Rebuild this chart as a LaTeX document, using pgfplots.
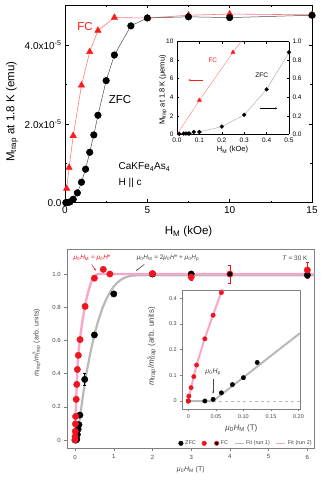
\documentclass[border=0pt]{standalone}
\usepackage{fontspec}
\setmainfont{Liberation Sans}
\usepackage{pgfplots}
\pgfplotsset{compat=1.18}
\usetikzlibrary{arrows.meta}
\definecolor{fcred}{HTML}{FF1A1A}
\definecolor{fcline}{HTML}{FF7A7A}
\definecolor{pinkfit}{HTML}{F9A6CB}
\definecolor{grayfit}{HTML}{B9B9B9}
\definecolor{ptred}{HTML}{F0141E}
\definecolor{framegray}{HTML}{808080}
\definecolor{labelgray}{HTML}{444444}
\definecolor{annot}{HTML}{3C4A5A}
\newcommand{\muo}{\textit{μ}\textsubscript{0}}
\begin{document}
\begin{tikzpicture}
%================ TOP MAIN =================
\begin{axis}[at={(65pt,278.3pt)}, anchor=south west, scale only axis,
  width=247pt, height=197.7pt,
  xmin=0, xmax=15, ymin=0, ymax=5.02,
  xtick={0,5,10,15}, ytick={0,2,4},
  yticklabels={0.0,{2.0x10\textsuperscript{-5}},{4.0x10\textsuperscript{-5}}},
  minor xtick={2.5,7.5,12.5}, minor ytick={1,3},
  tick align=inside, major tick length=3.5pt, minor tick length=2pt,
  every tick/.style={black, line width=0.6pt},
  axis line style={line width=0.8pt},
  tick label style={font=\fontsize{10}{12}\selectfont},
  /pgf/number format/assume math mode=true,
  xlabel={H\textsubscript{M} (kOe)}, ylabel={M\textsubscript{trap} at 1.8 K (emu)},
  label style={font=\fontsize{11.5}{13}\selectfont},
  xlabel style={at={(axis description cs:0.5,-0.148)}, anchor=center},
  ylabel style={at={(axis description cs:-0.215,0.46)}, anchor=center},
  clip=false]
\addplot[fcline, line width=0.6pt, mark=triangle*, mark size=3.6pt,
  mark options={fill=fcred, draw=fcred}] coordinates {
 (0.1,0.36) (0.25,0.89) (0.5,1.70) (1.0,2.98) (1.5,3.83) (2.0,4.37)
 (3.0,4.70) (5.0,4.69) (7.5,4.76) (10,4.79) (15,4.77)};
\addplot[black!70, line width=0.5pt, mark=*, mark size=3.3pt,
  mark options={fill=black, draw=black}] coordinates {
 (0.05,0.001) (0.1,0.003) (0.2,0.008) (0.3,0.02) (0.5,0.088) (0.75,0.25)
 (1.0,0.52) (1.25,0.85) (1.5,1.28) (1.75,1.72) (2.0,2.22) (2.5,3.1)
 (3.0,3.75) (4.0,4.49) (5.0,4.69) (7.5,4.72) (10,4.70) (15,4.76)};
\node[fcred, font=\fontsize{11.5}{13}\selectfont] at (axis cs:1.21,4.48) {FC};
\node[font=\fontsize{11.5}{13}\selectfont] at (axis cs:3.34,2.63) {ZFC};
\node[anchor=west, inner sep=0pt, font=\fontsize{10}{12}\selectfont] at (axis cs:3.25,0.9) {CaKFe\textsubscript{4}As\textsubscript{4}};
\node[anchor=west, inner sep=0pt, font=\fontsize{10}{12}\selectfont] at (axis cs:3.25,0.5) {H || c};
\end{axis}
%================ TOP INSET (left axis) =================
\begin{axis}[at={(177pt,346.7pt)}, anchor=south west, scale only axis,
  width=112pt, height=92.6pt,
  xmin=0, xmax=0.5, ymin=0, ymax=10,
  axis y line*=left,
  axis background/.style={fill=white},
  xtick={0,0.1,0.2,0.3,0.4,0.5}, xticklabels={0.0,0.1,0.2,0.3,0.4,0.5},
  ytick={0,2,4,6,8,10},
  tick align=inside, major tick length=2pt,
  every tick/.style={black, line width=0.5pt},
  axis line style={line width=0.6pt},
  tick label style={font=\fontsize{6.5}{7}\selectfont},
  /pgf/number format/assume math mode=true,
  xlabel={H\textsubscript{M} (kOe)}, ylabel={M\textsubscript{trap} at 1.8 K (μemu)},
  label style={font=\fontsize{7.5}{8.5}\selectfont},
  xlabel style={at={(axis description cs:0.495,-0.17)}, anchor=center},
  ylabel style={at={(axis description cs:-0.125,0.478)}, anchor=center}]
\addplot[fcline, line width=0.4pt, no marks] coordinates {(0,0) (0.1,3.67) (0.25,8.85) (0.5,17.0)};
\addplot[only marks, mark=triangle*, mark size=2.4pt, mark options={fill=fcred, draw=fcred}] coordinates {(0.1,3.67) (0.25,8.85)};
\node[fcred, font=\fontsize{6.5}{7}\selectfont] at (axis cs:0.16,8.0) {FC};
\draw[fcred, line width=0.7pt, -{Stealth[length=2.5pt]}] (axis cs:0.117,5.86) -- (axis cs:0.05,5.86);
\node[font=\fontsize{6.5}{7}\selectfont] at (axis cs:0.378,6.4) {ZFC};
\draw[black, line width=0.7pt, -{Stealth[length=2.5pt]}] (axis cs:0.37,2.8) -- (axis cs:0.448,2.8);
\end{axis}
%================ TOP INSET (right axis) =================
\begin{axis}[at={(177pt,346.7pt)}, anchor=south west, scale only axis,
  width=112pt, height=92.6pt,
  xmin=0, xmax=0.5, ymin=0, ymax=1,
  axis y line*=right, axis x line=none,
  ytick={0,0.2,0.4,0.6,0.8,1.0}, yticklabels={0.0,0.2,0.4,0.6,0.8,1.0},
  tick align=inside, major tick length=2pt,
  every tick/.style={black, line width=0.5pt},
  axis line style={line width=0.6pt},
  tick label style={font=\fontsize{6.5}{7}\selectfont},
  /pgf/number format/assume math mode=true, clip=false]
\addplot[black!35, line width=0.4pt, mark=*, mark size=1.9pt, mark options={fill=black, draw=black}] coordinates {
 (0.01,0.005) (0.03,0.008) (0.04,0.008) (0.05,0.008) (0.055,0.008) (0.075,0.025) (0.1,0.025)
 (0.2,0.083) (0.3,0.21) (0.4,0.485) (0.5,0.885)};
\end{axis}
%================ BOTTOM MAIN =================
\begin{axis}[at={(67.3pt,32.7pt)}, anchor=south west, scale only axis,
  width=247pt, height=199pt,
  xmin=-0.2, xmax=6.18, ymin=-0.05, ymax=1.149,
  xtick={0,1,2,3,4,5,6}, ytick={0,0.2,0.4,0.6,0.8,1.0},
  yticklabels={0,0.2,0.4,0.6,0.8,1.0},
  xtick pos=bottom, ytick pos=left, tick align=outside, major tick length=3pt,
  axis line style={framegray, line width=0.6pt},
  every tick/.style={framegray, line width=0.5pt},
  tick label style={font=\fontsize{6}{7}\selectfont, text=labelgray},
  /pgf/number format/assume math mode=true,
  xlabel={\muo\textit{H}\textsubscript{M} (T)},
  ylabel={\textit{m}\textsubscript{trap}/\textit{m}\rlap{\textsuperscript{s}}\textsubscript{trap} (arb. units)},
  label style={font=\fontsize{7}{8}\selectfont, text=labelgray},
  xlabel style={at={(axis description cs:0.5,-0.109)}, anchor=center},
  ylabel style={at={(axis description cs:-0.124,0.529)}, anchor=center},
  legend columns=5,
  legend style={at={(axis cs:6.17,-0.02)}, anchor=east, draw=none, fill=none,
    font=\fontsize{5.5}{6.5}\selectfont, text=labelgray, inner sep=0pt,
    /tikz/every even column/.append style={column sep=4pt}},
  clip=false]
% fits
\addplot[forget plot, grayfit, line width=2.2pt, no marks] coordinates {
 (0,0) (0.045,0) (0.1,0.092) (0.2,0.26) (0.25,0.335) (0.3,0.41) (0.4,0.53) (0.5,0.635)
 (0.6,0.72) (0.7,0.79) (0.8,0.845) (0.9,0.89) (1.0,0.925) (1.1,0.95) (1.2,0.968)
 (1.3,0.98) (1.4,0.987) (1.5,0.991) (1.7,0.993) (6.18,0.993)};
\addplot[forget plot, pinkfit, line width=2.4pt, no marks] coordinates {
 (0,0) (0.005,0.05) (0.01,0.097) (0.015,0.14) (0.03,0.245) (0.045,0.335) (0.06,0.425)
 (0.08,0.5) (0.1,0.555) (0.15,0.65) (0.2,0.73) (0.25,0.8) (0.3,0.855) (0.35,0.9)
 (0.4,0.94) (0.45,0.968) (0.5,0.985) (0.55,0.995) (0.6,1.0) (6.18,1.0)};
% error bars
\addplot[forget plot, black, only marks, mark=none, error bars/.cd, y dir=both, y explicit,
  error bar style={black, line width=0.5pt}, error mark options={rotate=90, mark size=1.5pt, black}]
 coordinates {(0.25,0.365) +- (0,0.035)};
\addplot[forget plot, ptred, only marks, mark=none, error bars/.cd, y dir=both, y explicit,
  error bar style={ptred, line width=0.5pt}, error mark options={rotate=90, mark size=1.5pt, ptred}]
 coordinates {(3,0.982) +- (0,0.02) (4,1.0) +- (0,0.055) (6,1.024) +- (0,0.05)};
% ZFC (run 1)
\addplot[forget plot, only marks, mark=*, mark size=3.2pt, mark options={fill=black, draw=black}] coordinates {
 (0,0) (0.03,0) (0.045,0.005) (0.06,0.033) (0.08,0.065) (0.1,0.092) (0.125,0.15)
 (0.25,0.365) (0.5,0.633) (1.0,0.88) (2,1.0) (3,1.0) (6,0.994)};
% FC (run 2)
\addplot[forget plot, only marks, mark=*, mark size=3.2pt, mark options={fill=ptred, draw=ptred}] coordinates {
 (0,0) (0.001,0.02) (0.005,0.052) (0.01,0.097) (0.015,0.142) (0.03,0.245) (0.045,0.335)
 (0.06,0.425) (0.085,0.51) (0.13,0.605) (0.26,0.805) (0.5,0.975) (0.73,1.028)
 (0.9,1.0) (2,1.003) (3,0.982) (6,1.024)};
\addplot[forget plot, only marks, mark=*, mark size=3.0pt, mark options={fill=black, draw=ptred, line width=0.8pt}] coordinates {(4,1.0)};
% legend
\addlegendimage{only marks, mark=*, mark size=2.3pt, mark options={fill=black, draw=black}}
\addlegendentry{ZFC}
\addlegendimage{only marks, mark=*, mark size=2.3pt, mark options={fill=ptred, draw=ptred}}
\addlegendentry{}
\addlegendimage{only marks, mark=*, mark size=2.1pt, mark options={fill=black, draw=ptred, line width=0.7pt}}
\addlegendentry{FC}
\addlegendimage{legend image code/.code={\draw[grayfit, line width=1pt] (0pt,0pt) -- (9pt,0pt);}}
\addlegendentry{Fit (run 1)}
\addlegendimage{legend image code/.code={\draw[pinkfit, line width=1pt] (0pt,0pt) -- (9pt,0pt);}}
\addlegendentry{Fit (run 2)}
% annotations
\node[ptred, font=\fontsize{6.5}{7.5}\selectfont] at (axis cs:0.44,1.098) {\muo\textit{H}\textsubscript{M} = \muo\textit{H}*};
\draw[ptred, line width=0.5pt, -{Stealth[length=2.5pt]}] (axis cs:0.43,1.058) -- (axis cs:0.535,1.02);
\node[text=labelgray, font=\fontsize{6.5}{7.5}\selectfont] at (axis cs:2.4,1.098) {\muo\textit{H}\textsubscript{M} = 2\muo\textit{H}* + \muo\textit{H}\textsubscript{p}};
\draw[annot, line width=0.6pt, -{Stealth[length=2.5pt]}] (axis cs:1.79,1.058) -- (axis cs:1.576,1.02);
\node[text=labelgray, font=\fontsize{6.5}{7.5}\selectfont] at (axis cs:5.68,1.094) {\textit{T} = 30 K};
\end{axis}
%================ BOTTOM INSET =================
\begin{axis}[at={(182.7pt,72pt)}, anchor=south west, scale only axis,
  width=117.3pt, height=119pt,
  xmin=-0.0102, xmax=0.2027, ymin=-0.031, ymax=0.432,
  axis background/.style={fill=white},
  xtick={0,0.05,0.1,0.15,0.2}, xticklabels={0,0.05,0.10,0.15,0.20},
  ytick={0,0.1,0.2,0.3,0.4}, yticklabels={0,0.1,0.2,0.3,0.4},
  xtick pos=bottom, ytick pos=left, tick align=outside, major tick length=2.5pt,
  axis line style={framegray, line width=0.6pt},
  every tick/.style={framegray, line width=0.5pt},
  tick label style={font=\fontsize{5.5}{6.5}\selectfont, text=labelgray},
  /pgf/number format/assume math mode=true,
  xlabel={\muo\textit{H}\textsubscript{M} (T)},
  ylabel={\textit{m}\textsubscript{trap}/\textit{m}\rlap{\textsuperscript{s}}\textsubscript{trap} (arb. units)},
  label style={font=\fontsize{8}{9}\selectfont, text=labelgray},
  xlabel style={at={(axis description cs:0.5,-0.162)}, anchor=center},
  ylabel style={at={(axis description cs:-0.262,0.525)}, anchor=center}]
\addplot[grayfit, line width=0.7pt, dashed, no marks] coordinates {(0.045,0) (0.2027,0)};
\addplot[grayfit, line width=2pt, no marks] coordinates {(0,0) (0.045,0) (0.1,0.092) (0.15,0.176) (0.2027,0.264)};
\addplot[pinkfit, line width=2pt, no marks] coordinates {(0,0) (0.005,0.05) (0.01,0.096) (0.015,0.14) (0.03,0.245) (0.045,0.335) (0.06,0.425) (0.063,0.44)};
\addplot[only marks, mark=*, mark size=2.2pt, mark options={fill=black, draw=black}] coordinates {
 (0,0) (0.03,0) (0.045,0.0065) (0.06,0.032) (0.08,0.064) (0.1,0.091) (0.125,0.15)};
\addplot[only marks, mark=*, mark size=2.2pt, mark options={fill=ptred, draw=ptred}] coordinates {
 (0,0) (0.001,0.019) (0.005,0.052) (0.01,0.095) (0.015,0.14) (0.03,0.242) (0.045,0.334) (0.06,0.422)};
\node[text=labelgray, font=\fontsize{7}{8}\selectfont] at (axis cs:0.045,0.114) {\muo\textit{H}\textsubscript{p}};
\draw[annot, line width=0.6pt, -{Stealth[length=2.5pt]}] (axis cs:0.045,0.085) -- (axis cs:0.045,0.028);
\end{axis}
\pgfresetboundingbox
\path[use as bounding box] (0,0) rectangle (327pt,481pt);
\end{tikzpicture}
\end{document}
